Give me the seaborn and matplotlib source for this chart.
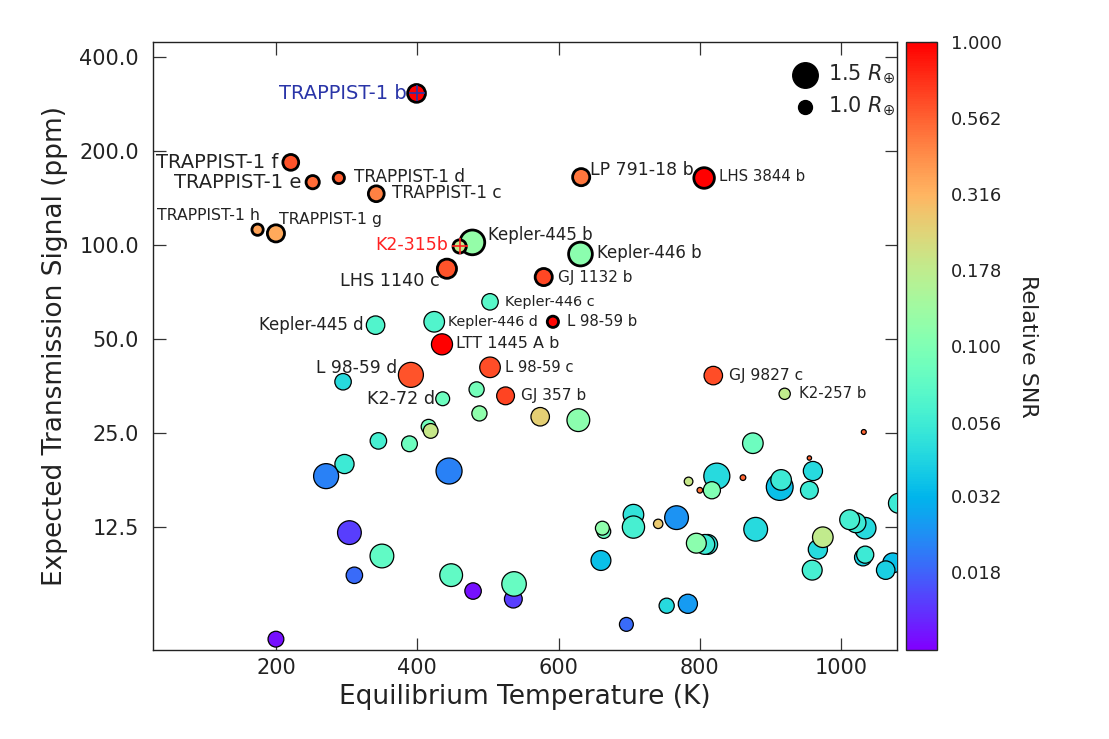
import numpy as np
import pandas as pd
import matplotlib
matplotlib.use("Agg")
import matplotlib.pyplot as plt
import seaborn as sns
from matplotlib.colors import LogNorm
from matplotlib.ticker import FixedLocator, FixedFormatter, NullLocator

# planet names ('' = unlabelled)
labelled = [
    "TRAPPIST-1 b", "TRAPPIST-1 f", "TRAPPIST-1 e", "TRAPPIST-1 d", "TRAPPIST-1 c",
    "TRAPPIST-1 h", "TRAPPIST-1 g", "Kepler-445 b", "K2-315b", "LHS 1140 c",
    "LP 791-18 b", "LHS 3844 b", "Kepler-446 b", "GJ 1132 b", "Kepler-446 c",
    "Kepler-446 d", "L 98-59 b", "Kepler-445 d", "LTT 1445 A b", "L 98-59 d",
    "L 98-59 c", "GJ 357 b", "K2-72 d", "GJ 9827 c", "K2-257 b",
]

# equilibrium temperature (K)
teq = [
    399, 221, 252, 289, 342, 174, 200, 478, 460, 442,
    632, 806, 631, 579, 503, 424, 592, 341, 435, 391,
    503, 525, 436, 819, 920,
    295, 484, 488, 574, 628, 416, 419, 345, 389, 297,
    271, 445, 304, 350, 311, 448, 479, 536, 537, 200,
    664, 662, 660, 1032, 875, 955, 960, 824, 784, 861,
    800, 817, 913, 915, 955, 1081, 706, 706, 741, 767,
    879, 811, 807, 795, 1034, 1021, 1012, 967, 974, 959,
    1031, 1034, 1073, 1063, 753, 783, 696,
]

# expected transmission signal (ppm)
signal = [
    306, 184, 159, 164, 146, 112, 109, 102, 99, 84,
    165, 164, 93.6, 79, 65.8, 56.8, 56.8, 55.4, 48.1, 38.4,
    40.6, 32.9, 32.2, 38.2, 33.4,
    36.5, 34.5, 28.9, 28.2, 27.5, 26.2, 25.4, 23.6, 23.1, 19.9,
    18.2, 18.9, 12.0, 10.1, 8.76, 8.77, 7.8, 7.35, 8.22, 5.47,
    12.1, 12.4, 9.77, 25.2, 23.2, 20.8, 18.9, 18.2, 17.5, 18.0,
    16.4, 16.4, 16.8, 17.7, 16.4, 14.9, 13.7, 12.5, 12.8, 13.4,
    12.3, 11.0, 11.0, 11.1, 12.4, 12.9, 13.2, 10.6, 11.6, 9.1,
    10.0, 10.2, 9.6, 9.1, 7.0, 7.1, 6.1,
]

# planet radius (Earth radii)
radius = [
    1.18, 1.09, 0.97, 0.87, 1.09, 0.87, 1.15, 1.47, 0.97, 1.24,
    1.15, 1.30, 1.43, 1.15, 1.12, 1.30, 0.87, 1.21, 1.32, 1.48,
    1.30, 1.18, 1.00, 1.21, 0.87,
    1.12, 1.06, 1.06, 1.21, 1.39, 1.04, 1.04, 1.12, 1.09, 1.24,
    1.48, 1.52, 1.43, 1.43, 1.12, 1.39, 1.12, 1.18, 1.46, 1.09,
    1.00, 1.00, 1.27, 0.50, 1.30, 0.46, 1.24, 1.52, 0.73, 0.55,
    0.55, 1.15, 1.55, 1.30, 1.18, 1.27, 1.30, 1.37, 0.77, 1.43,
    1.43, 1.27, 1.27, 1.27, 1.34, 1.27, 1.27, 1.24, 1.30, 1.27,
    1.15, 1.15, 1.27, 1.21, 1.06, 1.24, 1.00,
]

# relative SNR
snr = [
    1.0, 0.61, 0.53, 0.57, 0.46, 0.36, 0.34, 0.12, 0.18, 0.61,
    0.49, 1.0, 0.11, 0.65, 0.07, 0.065, 0.95, 0.065, 1.0, 0.61,
    0.63, 0.67, 0.085, 0.63, 0.18,
    0.045, 0.09, 0.115, 0.25, 0.11, 0.09, 0.19, 0.06, 0.085, 0.055,
    0.022, 0.022, 0.0145, 0.075, 0.019, 0.075, 0.011, 0.0145, 0.08, 0.011,
    0.085, 0.115, 0.035, 0.55, 0.085, 0.55, 0.045, 0.045, 0.19, 0.55,
    0.5, 0.1, 0.035, 0.055, 0.055, 0.055, 0.05, 0.06, 0.26, 0.025,
    0.045, 0.05, 0.055, 0.11, 0.045, 0.055, 0.06, 0.045, 0.18, 0.06,
    0.04, 0.055, 0.035, 0.04, 0.045, 0.026, 0.019,
]

names = labelled + [""] * (len(teq) - len(labelled))

highlight = ["TRAPPIST-1 b", "TRAPPIST-1 f", "TRAPPIST-1 e", "TRAPPIST-1 d",
             "TRAPPIST-1 c", "TRAPPIST-1 h", "TRAPPIST-1 g", "K2-315b",
             "Kepler-445 b", "LHS 1140 c", "LP 791-18 b", "LHS 3844 b",
             "Kepler-446 b", "GJ 1132 b", "L 98-59 b"]

df = pd.DataFrame({"name": names, "teq": teq, "signal": signal,
                   "radius": radius, "snr": snr})
df["area"] = 100 * df["radius"] ** 3
df["lw"] = np.where(df["name"].isin(highlight), 2.0, 0.9)

# label placement: (dx px, dy px, ha, fontsize, colour)
txt = "#222222"
label_style = {
    "TRAPPIST-1 b": (-10, 0, "right", 14, "#2a35a8"),
    "TRAPPIST-1 f": (-12, 0, "right", 14, txt),
    "TRAPPIST-1 e": (-11, 0, "right", 14, txt),
    "TRAPPIST-1 d": (15, 1, "left", 12.2, txt),
    "TRAPPIST-1 c": (15.5, 1, "left", 12.2, txt),
    "TRAPPIST-1 h": (2, 14, "right", 11.3, txt),
    "TRAPPIST-1 g": (3.5, 14, "left", 11.3, txt),
    "K2-315b": (-11.5, 1, "right", 12.5, "#ff2222"),
    "Kepler-445 b": (15.5, 7, "left", 12, txt),
    "LHS 1140 c": (-7, -12, "right", 12.7, txt),
    "LP 791-18 b": (9, 7, "left", 12.5, txt),
    "LHS 3844 b": (15, 1, "left", 10.8, txt),
    "Kepler-446 b": (16.5, 1, "left", 12, txt),
    "GJ 1132 b": (14.5, 0, "left", 11, txt),
    "Kepler-446 c": (15, 0, "left", 10.4, txt),
    "Kepler-446 d": (13.5, 0, "left", 10.3, txt),
    "L 98-59 b": (14.5, 0, "left", 10.7, txt),
    "Kepler-445 d": (-11.5, 0, "right", 12, txt),
    "LTT 1445 A b": (14.5, 1, "left", 11.5, txt),
    "L 98-59 d": (-14, 7, "right", 12.3, txt),
    "L 98-59 c": (15, 0, "left", 10.6, txt),
    "GJ 357 b": (15, 0, "left", 11.1, txt),
    "K2-72 d": (-7.5, 0, "right", 12.6, txt),
    "GJ 9827 c": (15.5, 0, "left", 11.2, txt),
    "K2-257 b": (14.5, 0, "left", 10.7, txt),
}

sns.set_style("ticks")
plt.rcParams["font.family"] = ["DejaVu Sans"]

norm = LogNorm(vmin=0.01, vmax=1.0)
fig = plt.figure(figsize=(11.09, 7.39), dpi=100)
ax = fig.add_axes([153 / 1109, 89 / 739, 744 / 1109, 608 / 739])
cax = fig.add_axes([906 / 1109, 89 / 739, 31 / 1109, 608 / 739])

ax.set_yscale("log")
sns.scatterplot(data=df, x="teq", y="signal", hue="snr", hue_norm=norm,
                palette="rainbow", s=df["area"].values, edgecolor="black",
                linewidth=df["lw"].values, legend=False, ax=ax, zorder=3)

# crosshairs on the two special targets
for nm, col in [("TRAPPIST-1 b", "#2a35a8"), ("K2-315b", "#ff2222")]:
    r = df[df["name"] == nm].iloc[0]
    ax.plot(r["teq"], r["signal"], marker="+", color=col, ms=11, mew=1.2,
            zorder=4)

for _, r in df[df["name"] != ""].iterrows():
    dx, dy, ha, fs, col = label_style[r["name"]]
    ax.annotate(r["name"], (r["teq"], r["signal"]), xytext=(dx, dy),
                textcoords="offset pixels", ha=ha, va="center",
                fontsize=fs, color=col, zorder=5)

ax.set_xlim(26, 1079)
ax.set_ylim(5.05, 447)
yt = [12.5, 25, 50, 100, 200, 400]
ax.yaxis.set_major_locator(FixedLocator(yt))
ax.yaxis.set_major_formatter(FixedFormatter([f"{v:.1f}" for v in yt]))
ax.yaxis.set_minor_locator(NullLocator())
ax.set_xticks([200, 400, 600, 800, 1000])
ax.tick_params(direction="in", length=9, width=0.9, top=True, right=True,
               labelsize=15, colors="#333333", labelcolor="#222222")
ax.tick_params(axis="y", pad=10)
ax.tick_params(axis="x", pad=6)
for sp in ax.spines.values():
    sp.set_linewidth(1.0)
    sp.set_color("#222222")
ax.set_xlabel("Equilibrium Temperature (K)", fontsize=19, color="#222222")
ax.set_ylabel("Expected Transmission Signal (ppm)", fontsize=19,
              color="#222222", labelpad=8)

# size legend
h15 = ax.scatter([], [], s=100 * 1.5 ** 3, c="black")
h10 = ax.scatter([], [], s=100 * 1.0 ** 3, c="black")
ax.legend([h15, h10], [r"1.5 $R_{\oplus}$", r"1.0 $R_{\oplus}$"],
          loc="upper right", bbox_to_anchor=(1.012, 0.982), frameon=False,
          fontsize=15, handletextpad=0.1, labelspacing=0.42,
          borderaxespad=0.1)

sm = plt.cm.ScalarMappable(norm=norm, cmap="rainbow")
cb = fig.colorbar(sm, cax=cax)
ct = [1.0, 0.562, 0.316, 0.178, 0.100, 0.056, 0.032, 0.018]
cb.set_ticks(ct)
cb.set_ticklabels([f"{v:.3f}" for v in ct])
cb.ax.yaxis.set_minor_locator(NullLocator())
cb.ax.tick_params(direction="in", length=5, width=0.9, labelsize=13,
                  pad=10, colors="#333333", labelcolor="#222222")
cb.outline.set_linewidth(1.0)
cb.set_label("Relative SNR", rotation=270, fontsize=16, labelpad=26,
             color="#222222")

fig.savefig("out.png", dpi=100)
